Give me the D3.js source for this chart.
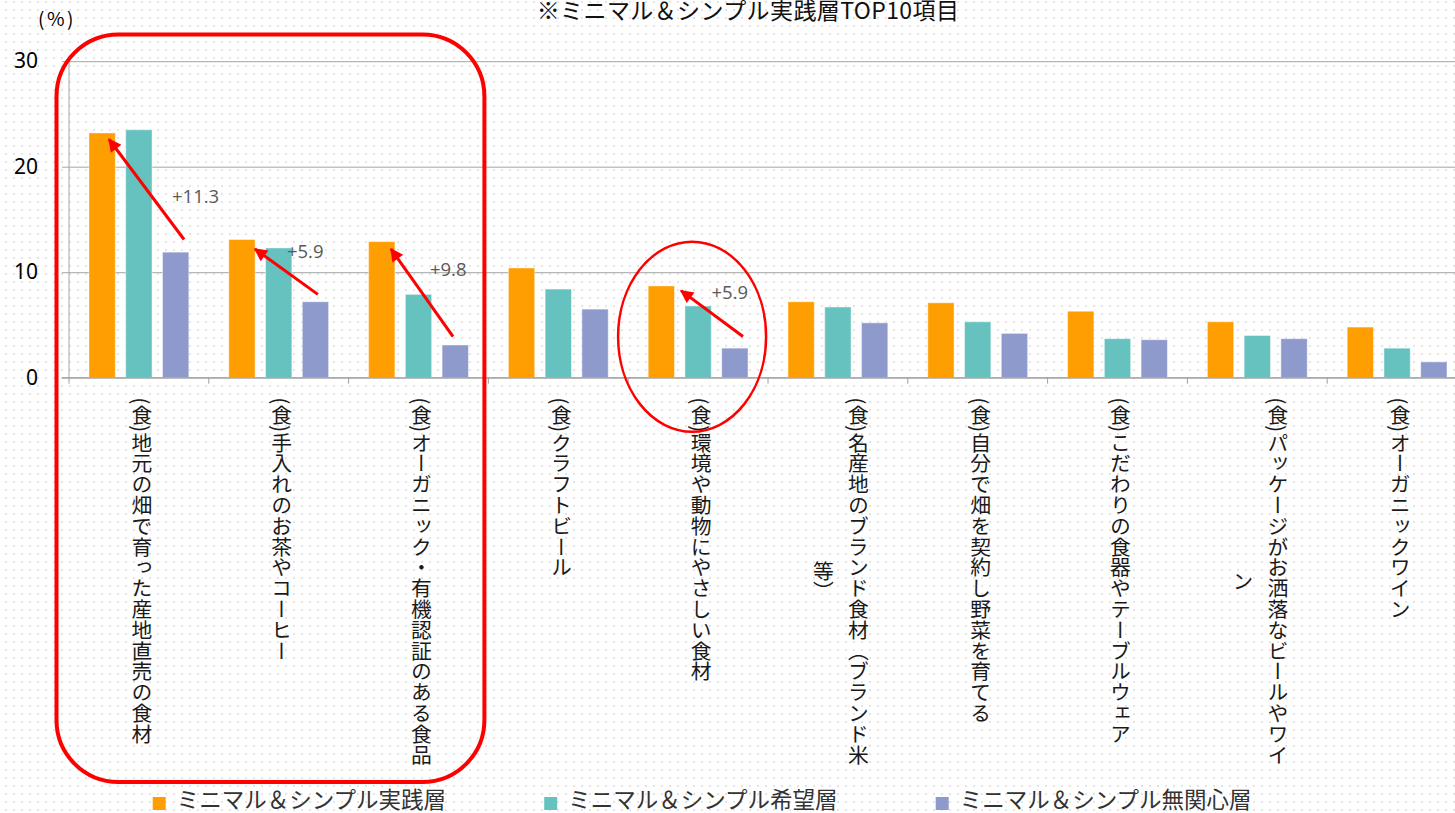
<!DOCTYPE html>
<html>
<head>
<meta charset="utf-8">
<script src="https://cdn.jsdelivr.net/npm/d3@7"></script>
<style>
  html, body { margin: 0; padding: 0; background: #fff; }
  svg { display: block; font-family: "Noto Sans CJK JP", "Noto Sans", sans-serif; }
</style>
</head>
<body>
<svg id="chart" width="1455" height="813"></svg>
<script>
// data
var categories = [
  "(食)地元の畑で育った産地直売の食材",
  "(食)手入れのお茶やコーヒー",
  "(食)オーガニック・有機認証のある食品",
  "(食)クラフトビール",
  "(食)環境や動物にやさしい食材",
  "(食)名産地のブランド食材（ブランド米等）",
  "(食)自分で畑を契約し野菜を育てる",
  "(食)こだわりの食器やテーブルウェア",
  "(食)パッケージがお洒落なビールやワイン",
  "(食)オーガニックワイン"
];
var seriesNames = ["ミニマル＆シンプル実践層", "ミニマル＆シンプル希望層", "ミニマル＆シンプル無関心層"];
var jissen    = [23.2, 13.1, 12.9, 10.4, 8.7, 7.2, 7.1, 6.3, 5.3, 4.8];
var kibou     = [23.5, 12.3, 7.9, 8.4, 6.8, 6.7, 5.3, 3.7, 4.0, 2.8];
var mukanshin = [11.9, 7.2, 3.1, 6.5, 2.8, 5.2, 4.2, 3.6, 3.7, 1.5];
var yTicks = [0, 10, 20, 30];
var colors = ["#FF9E00", "#66C2BF", "#8E9ACC"];

// arrows from 無関心層 up to 実践層 (band fraction, value)
var arrowCats  = [0, 1, 2, 4];
var arrowTail  = [[0.823, 13.1], [0.78, 7.9], [0.747, 3.9], [0.821, 3.9]];
var arrowHead  = [[0.286, 22.6], [0.33, 12.2], [0.303, 12.2], [0.378, 8.25]];
var diffLabelAt = [[0.737, 17.2], [0.559, 12.0], [0.582, 10.3], [0.596, 8.06]];

var svg = d3.select("#chart");

// dotted background
var defs = svg.append("defs");
defs.append("pattern")
    .attr("id", "dots").attr("width", 8).attr("height", 8)
    .attr("patternUnits", "userSpaceOnUse")
  .append("rect").attr("x", 5).attr("y", 1).attr("width", 2).attr("height", 2)
    .attr("fill", "#e4e4e4");
defs.append("marker")
    .attr("id", "arrowhead").attr("viewBox", "0 0 10 10")
    .attr("refX", 9).attr("refY", 5)
    .attr("markerWidth", 5).attr("markerHeight", 4.4)
    .attr("markerUnits", "strokeWidth")
    .attr("orient", "auto")
  .append("path").attr("d", "M0,0L10,5L0,10z").attr("fill", "#FF0000");

svg.append("rect").attr("width", 1455).attr("height", 813).attr("fill", "#fff");
svg.append("rect").attr("width", 1455).attr("height", 813).attr("fill", "url(#dots)");

var left = 69, right = 1467, y0px = 377.7, y30px = 61.2;

var x0 = d3.scaleBand().domain(categories).range([left, right]);
var bw = x0.bandwidth();
var x1 = d3.scaleBand().domain([0, 1, 2]).range([bw * 0.143, bw * 0.857]).paddingInner(0.284);
var y = d3.scaleLinear().domain([0, 30]).range([y0px, y30px]);

// gridlines + y labels
var yAxis = svg.append("g")
    .attr("transform", "translate(" + left + ",0)")
    .call(d3.axisLeft(y).tickValues(yTicks).tickSize(-(right - left)).tickSizeOuter(0).tickPadding(31));
yAxis.select(".domain").remove();
yAxis.selectAll(".tick line").attr("x1", -7).attr("stroke", "#a6a6a6");
yAxis.selectAll(".tick text")
    .attr("font-size", 21).attr("fill", "#000")
    .attr("font-family", "'Noto Sans', 'Noto Sans CJK JP', sans-serif");

svg.append("line")
    .attr("x1", left).attr("x2", left).attr("y1", y(30)).attr("y2", y(0))
    .attr("stroke", "#a6a6a6");

// bars
var series = [jissen, kibou, mukanshin];
var groups = svg.append("g").selectAll("g")
  .data(categories)
  .join("g")
    .attr("transform", function(d) { return "translate(" + x0(d) + ",0)"; });

groups.selectAll("rect")
  .data(function(d, i) { return series.map(function(s, k) { return { k: k, v: s[i] }; }); })
  .join("rect")
    .attr("x", function(d) { return x1(d.k); })
    .attr("width", x1.bandwidth())
    .attr("y", function(d) { return y(d.v); })
    .attr("height", function(d) { return y(0) - y(d.v); })
    .attr("fill", function(d) { return colors[d.k]; })
    .attr("stroke", "#fff").attr("stroke-opacity", 0.45).attr("stroke-width", 1);

// category axis
svg.append("line")
    .attr("x1", left - 7).attr("x2", 1455).attr("y1", y(0)).attr("y2", y(0))
    .attr("stroke", "#a0a0a0");
svg.append("g").selectAll("line")
  .data(categories)
  .join("line")
    .attr("x1", function(d) { return x0(d); }).attr("x2", function(d) { return x0(d); })
    .attr("y1", y(0)).attr("y2", y(0) + 6)
    .attr("stroke", "#a0a0a0");

// vertical category labels
var labelSize = 20.8, maxEm = 18.3;
function charEm(c) { return /[\x20-\x7e]/.test(c) ? 0.5 : 1; }
function wrap(s) {
  var lines = [], cur = "", w = 0;
  Array.from(s).forEach(function(c) {
    if (w + charEm(c) > maxEm) { lines.push(cur); cur = ""; w = 0; }
    cur += c; w += charEm(c);
  });
  if (cur) lines.push(cur);
  return lines;
}
var labelG = svg.append("g");
categories.forEach(function(cat) {
  var lines = wrap(cat);
  var cx = x0(cat) + bw / 2 + 3;
  var lens = lines.map(function(l) { return Array.from(l).reduce(function(a, c) { return a + charEm(c); }, 0) * labelSize; });
  var mid = 394 + d3.max(lens) / 2;
  var gap = 35;
  lines.forEach(function(l, j) {
    labelG.append("text")
      .attr("x", cx + ((lines.length - 1) / 2 - j) * gap)
      .attr("y", mid)
      .attr("text-anchor", "middle")
      .style("writing-mode", "vertical-rl")
      .attr("font-size", labelSize)
      .attr("fill", "#1a1a1a")
      .text(l);
  });
});

// title and unit
svg.append("text")
    .attr("x", 748).attr("y", 19)
    .attr("text-anchor", "middle")
    .attr("font-size", 23).attr("fill", "#111")
    .attr("letter-spacing", 0.4)
    .text("※ミニマル＆シンプル実践層TOP10項目");
svg.append("text")
    .attr("x", 38).attr("y", 26)
    .attr("font-size", 19).attr("fill", "#000")
    .attr("letter-spacing", 2.5)
    .text("(%)");

// annotations
var fmt = d3.format("+.1f");
var annG = svg.append("g");
arrowCats.forEach(function(ci, n) {
  var cat = categories[ci];
  annG.append("line")
    .attr("x1", x0(cat) + bw * arrowTail[n][0]).attr("y1", y(arrowTail[n][1]))
    .attr("x2", x0(cat) + bw * arrowHead[n][0]).attr("y2", y(arrowHead[n][1]))
    .attr("stroke", "#FF0000").attr("stroke-width", 3)
    .attr("marker-end", "url(#arrowhead)");
  annG.append("text")
    .attr("x", x0(cat) + bw * diffLabelAt[n][0]).attr("y", y(diffLabelAt[n][1]))
    .attr("dy", "0.35em")
    .attr("font-size", 18.5).attr("fill", "#595959")
    .attr("font-family", "'Open Sans', 'Noto Sans', sans-serif")
    .text(fmt(jissen[ci] - mukanshin[ci]));
});

// highlight shapes
svg.append("rect")
    .attr("x", x0(categories[0]) - 12.5)
    .attr("y", 34.5)
    .attr("width", x0(categories[2]) + bw - 4 - (x0(categories[0]) - 12.5))
    .attr("height", 782 - 34.5)
    .attr("rx", 62).attr("ry", 62)
    .attr("fill", "none").attr("stroke", "#FF0000").attr("stroke-width", 4);
svg.append("ellipse")
    .attr("cx", x0(categories[4]) + bw / 2 - 6)
    .attr("cy", 336.7).attr("rx", 74).attr("ry", 95)
    .attr("fill", "none").attr("stroke", "#FF0000").attr("stroke-width", 2.5);

// legend
var legend = svg.append("g").selectAll("g")
  .data(seriesNames)
  .join("g")
    .attr("transform", function(d, i) { return "translate(" + (152.7 + i * 391.5) + ",797)"; });
legend.append("rect")
    .attr("width", 13).attr("height", 13)
    .attr("fill", function(d, i) { return colors[i]; });
legend.append("text")
    .attr("x", 24).attr("y", 11)
    .attr("font-size", 22.5).attr("fill", "#333")
    .text(function(d) { return d; });
</script>
</body>
</html>
